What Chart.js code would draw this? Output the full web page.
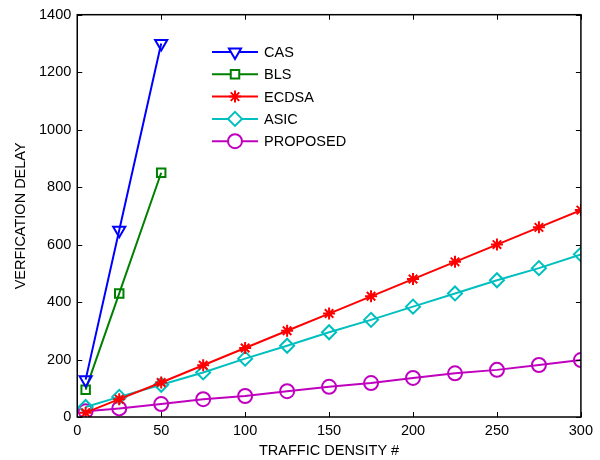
<!DOCTYPE html>
<html>
<head>
<meta charset="utf-8">
<script src="https://cdn.jsdelivr.net/npm/chart.js@4.4.1/dist/chart.umd.min.js"></script>
<style>
  html, body { margin: 0; padding: 0; background: #fff; }
  #wrap { width: 600px; height: 460px; }
</style>
</head>
<body>
<div id="wrap"><canvas id="delayChart" width="600" height="460"></canvas></div>
<script>
// traffic density values
var densityShort = [5, 25, 50];
var densityLong = [5, 25, 50, 75, 100, 125, 150, 175, 200, 225, 250, 275, 300];

// verification delay per scheme
var casDelay = [130, 650, 1300];
var blsDelay = [95, 430, 850];
var ecdsaDelay = [15, 62, 120, 180, 240, 300, 360, 420, 480, 540, 600, 660, 720];
var asicDelay = [35, 70, 112, 155, 203, 248, 295, 338, 384, 430, 476, 518, 566];
var proposedDelay = [20, 30, 45, 62, 73, 90, 105, 118, 136, 152, 164, 181, 198];

var xTicks = [0, 50, 100, 150, 200, 250, 300];
var yTicks = [0, 200, 400, 600, 800, 1000, 1200, 1400];

function toPoints(xs, ys) {
  return xs.map(function(x, i) { return { x: x, y: ys[i] }; });
}

var series = [
  { label: 'CAS', xs: densityShort, ys: casDelay, color: '#0000FF', style: 'triangle', rot: 180, r: 7 },
  { label: 'BLS', xs: densityShort, ys: blsDelay, color: '#008000', style: 'rect', rot: 0, r: 6 },
  { label: 'ECDSA', xs: densityLong, ys: ecdsaDelay, color: '#FF0000', style: 'star', rot: 0, r: 6 },
  { label: 'ASIC', xs: densityLong, ys: asicDelay, color: '#00BFBF', style: 'rectRot', rot: 0, r: 7 },
  { label: 'PROPOSED', xs: densityLong, ys: proposedDelay, color: '#BF00BF', style: 'circle', rot: 0, r: 7 }
];

var FONT = '"Liberation Sans", Arial, sans-serif';

// MATLAB style box with inward ticks, plus legend inside the plot
var matlabFrame = {
  id: 'matlabFrame',
  afterDatasetsDraw: function(chart) {
    var ctx = chart.ctx;
    var a = chart.chartArea;
    var xs = chart.scales.x, ys = chart.scales.y;
    ctx.save();
    ctx.strokeStyle = '#000';
    ctx.lineWidth = 1.5;
    ctx.strokeRect(a.left, a.top, a.right - a.left, a.bottom - a.top);
    ctx.lineWidth = 1;
    xTicks.forEach(function(v) {
      var px = Math.round(xs.getPixelForValue(v)) + 0.5;
      ctx.beginPath();
      ctx.moveTo(px, a.bottom); ctx.lineTo(px, a.bottom - 5);
      ctx.moveTo(px, a.top); ctx.lineTo(px, a.top + 5);
      ctx.stroke();
    });
    yTicks.forEach(function(v) {
      var py = Math.round(ys.getPixelForValue(v)) + 0.5;
      ctx.beginPath();
      ctx.moveTo(a.left, py); ctx.lineTo(a.left + 5, py);
      ctx.moveTo(a.right, py); ctx.lineTo(a.right - 5, py);
      ctx.stroke();
    });

    // legend
    var lx = 212, ly = 52, step = 22.3;
    ctx.font = '14.5px ' + FONT;
    ctx.textBaseline = 'middle';
    chart.data.datasets.forEach(function(ds, i) {
      var y = ly + i * step;
      ctx.strokeStyle = ds.borderColor;
      ctx.lineWidth = 2;
      ctx.beginPath();
      ctx.moveTo(lx, y); ctx.lineTo(lx + 46, y);
      ctx.stroke();
      ctx.fillStyle = '#fff';
      Chart.helpers.drawPoint(ctx, {
        pointStyle: ds.pointStyle,
        rotation: ds.pointRotation,
        radius: ds.pointRadius,
        borderWidth: 2
      }, lx + 23, y);
      ctx.fillStyle = '#000';
      ctx.fillText(ds.label, lx + 52, y + 1);
    });
    ctx.restore();
  }
};

var plainTick = function(value) { return String(value); };

var ctx = document.getElementById('delayChart').getContext('2d');
var delayChart = new Chart(ctx, {
  type: 'line',
  data: {
    datasets: series.map(function(s) {
      return {
        label: s.label,
        data: toPoints(s.xs, s.ys),
        borderColor: s.color,
        backgroundColor: 'rgba(0,0,0,0)',
        borderWidth: 2,
        pointStyle: s.style,
        pointRotation: s.rot,
        pointRadius: s.r,
        pointBorderWidth: 2,
        pointBorderColor: s.color,
        pointBackgroundColor: 'rgba(0,0,0,0)',
        tension: 0,
        fill: false
      };
    })
  },
  options: {
    responsive: false,
    animation: false,
    layout: { padding: { left: 0, right: 18, top: 2, bottom: 2 } },
    scales: {
      x: {
        type: 'linear',
        min: 0,
        max: 300,
        afterBuildTicks: function(scale) {
          scale.ticks = xTicks.map(function(v) { return { value: v }; });
        },
        grid: { display: false, drawTicks: false },
        border: { display: false },
        ticks: { color: '#000', padding: 7, callback: plainTick, font: { size: 14.5, family: FONT, lineHeight: 1.0 } },
        title: {
          display: true,
          text: 'TRAFFIC DENSITY #',
          color: '#000',
          padding: { top: -2, bottom: 0 },
          font: { size: 14.5, family: FONT, lineHeight: 1.0 }
        }
      },
      y: {
        type: 'linear',
        min: 0,
        max: 1400,
        afterBuildTicks: function(scale) {
          scale.ticks = yTicks.map(function(v) { return { value: v }; });
        },
        grid: { display: false, drawTicks: false },
        border: { display: false },
        ticks: { color: '#000', padding: 6, callback: plainTick, font: { size: 14.5, family: FONT } },
        title: {
          display: true,
          text: 'VERFICATION DELAY',
          color: '#000',
          padding: { top: 14, bottom: 4.5 },
          font: { size: 14.5, family: FONT, lineHeight: 1.0 }
        }
      }
    },
    plugins: {
      legend: { display: false },
      tooltip: { enabled: false }
    }
  },
  plugins: [matlabFrame]
});
</script>
</body>
</html>
